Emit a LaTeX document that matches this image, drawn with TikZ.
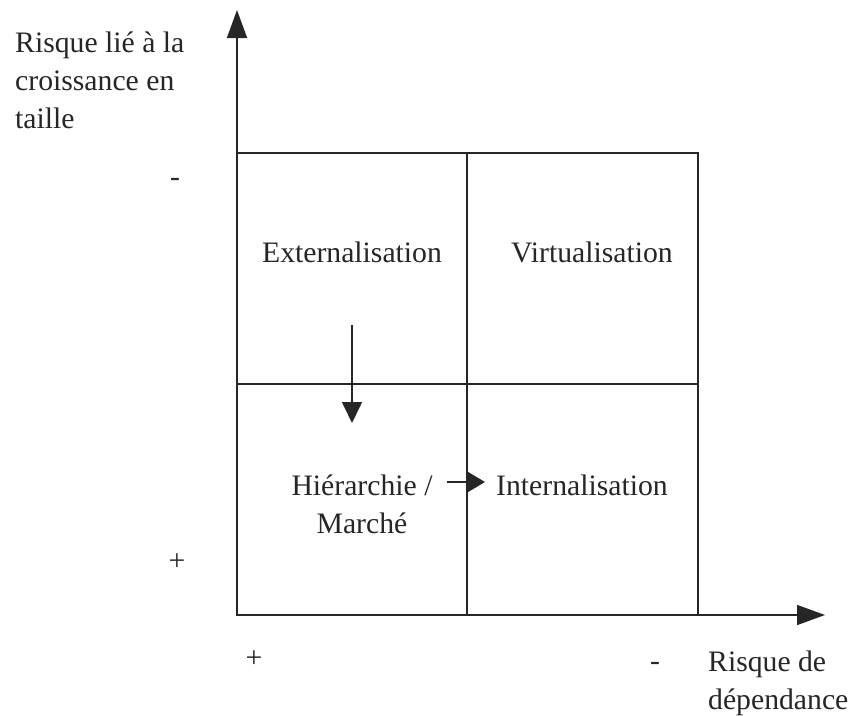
\documentclass[tikz,border=0pt]{standalone}
\usepackage{fontspec}
\setmainfont{Liberation Serif}
\usetikzlibrary{arrows.meta}
\definecolor{ink}{RGB}{38,38,38}
\begin{document}
\begin{tikzpicture}[x=1pt,y=-1pt,
  grid/.style={line width=1.3pt, draw=ink},
  axis/.style={line width=1.6pt, draw=ink, -{Triangle[length=28pt,width=20pt]}},
  flow/.style={line width=1.6pt, draw=ink},
  lbl/.style={inner sep=0pt, text=ink, font=\fontsize{29.7}{38}\selectfont},
 ]
\useasboundingbox (0,0) rectangle (862,715);

% matrix corners and midpoints
\coordinate (O)  at (237,615);
\coordinate (tl) at (237,153);
\coordinate (tr) at (698,153);
\coordinate (br) at (698,615);
\coordinate (ml) at (237,384);
\coordinate (mr) at (698,384);
\coordinate (mt) at (467,153);
\coordinate (mb) at (467,615);
\coordinate (mk) at (467,417);
\coordinate (ytip) at (237,10);
\coordinate (xtip) at (825,615);

% the 2x2 matrix
\draw[grid] (tl) -- (tr) -- (br) -- (O) -- cycle;
\draw[grid] (ml) -- (mr);
\draw[grid] (mt) -- (mb);
\draw[line width=2.6pt, draw=ink] (mk) -- (mb);

% axes
\draw[axis] (O) -- (ytip);
\draw[axis] (O) -- (xtip);

% quadrant labels (base anchor = baseline of the last line)
\node[lbl, anchor=base] (ext) at (352,262) {Externalisation};
\node[lbl, anchor=base] (vir) at (592,262) {Virtualisation};
\node[lbl, anchor=base] (int) at (582,495) {Internalisation};
\node[lbl, anchor=base, align=center] (hie) at (362,533) {Hiérarchie /\\Marché};

% movements between quadrants
\coordinate (d0) at (352,325);
\coordinate (d1) at (352,423);
\draw[flow, -{Triangle[length=21pt,width=20pt]}] (d0) -- (d1);
\coordinate (r0) at (447,482);
\coordinate (r1) at (485,482);
\draw[flow, -{Triangle[length=18pt,width=21pt]}] (r0) -- (r1);

% axis titles
\node[lbl, anchor=base west, align=left] (ytitle) at (15,128)
  {Risque lié à la\\croissance en\\taille};
\node[lbl, anchor=base west, align=left] (xtitle) at (708,709)
  {Risque de\\dépendance};

% scale signs
\node[lbl, anchor=base] (ym) at (175,186) {-};
\node[lbl, anchor=base] (yp) at (177,570) {+};
\node[lbl, anchor=base] (xp) at (254,667) {+};
\node[lbl, anchor=base] (xm) at (655,670) {-};
\end{tikzpicture}
\end{document}
